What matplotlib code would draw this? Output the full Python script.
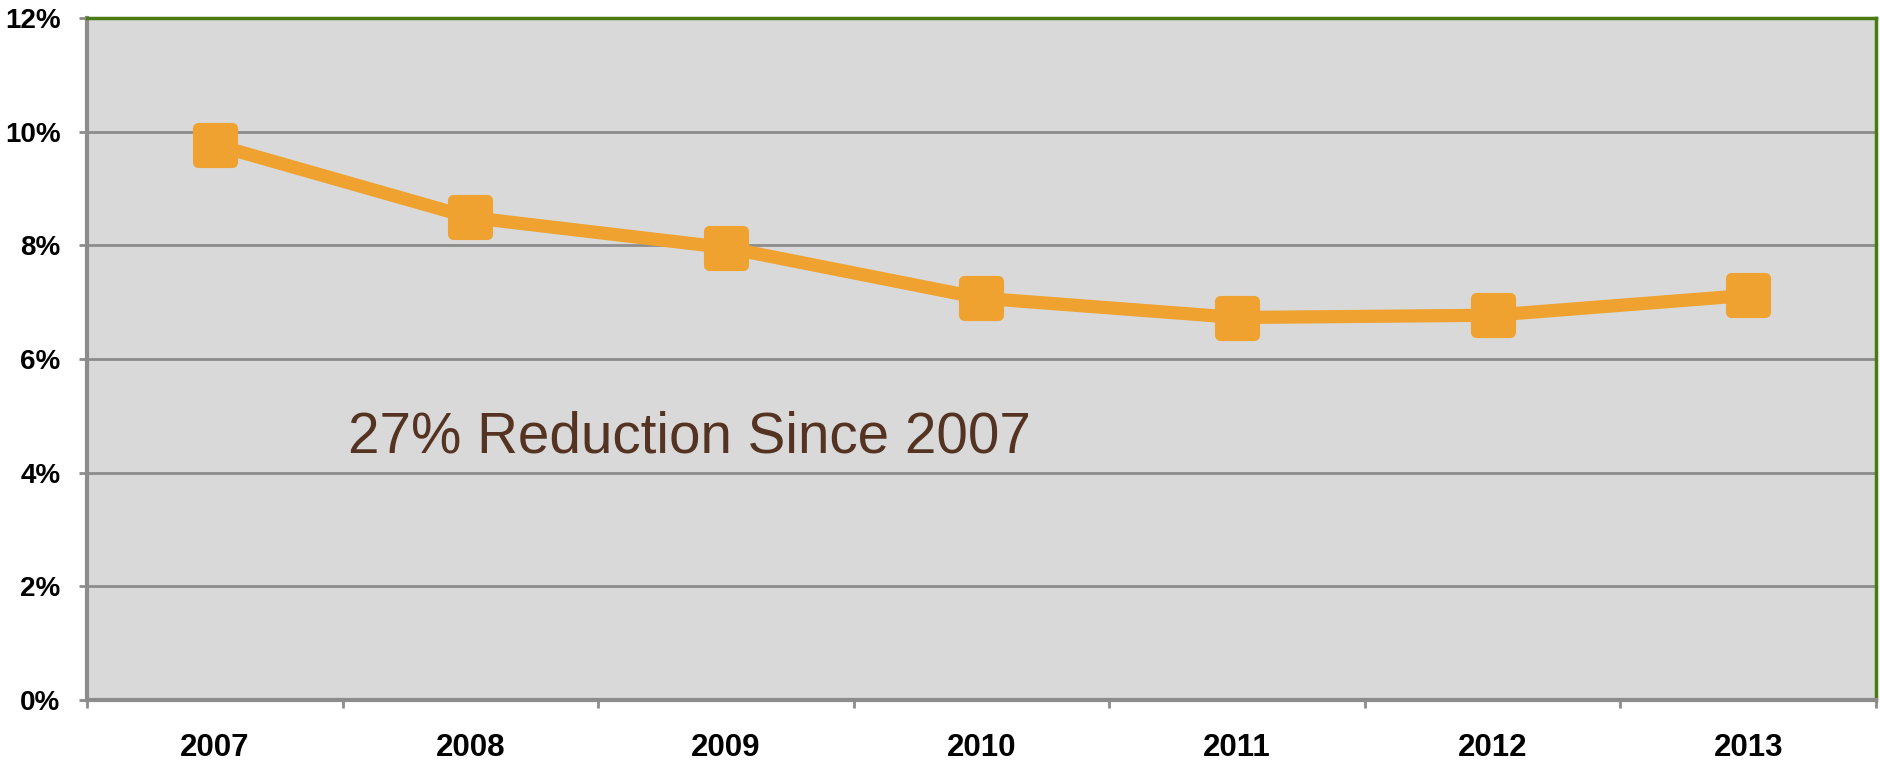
import matplotlib
matplotlib.use('Agg')
import matplotlib.pyplot as plt
from matplotlib.markers import MarkerStyle
from matplotlib.ticker import FixedLocator, FuncFormatter

years = ['2007', '2008', '2009', '2010', '2011', '2012', '2013']
rate = [9.77, 8.49, 7.96, 7.07, 6.73, 6.77, 7.12]
note = '27% Reduction Since 2007'

orange = '#efa22f'
grid_grey = '#8c8c8c'
frame_green = '#4a7a14'

fig = plt.figure(figsize=(18.81, 7.68), dpi=100)
ax = fig.add_axes([87 / 1881, 1 - 700 / 768, (1876 - 87) / 1881, (700 - 18) / 768])
ax.set_facecolor('#d9d9d9')

x = list(range(len(years)))
marker = MarkerStyle('s', joinstyle='round')
ax.plot(x, rate, color=orange, linewidth=9.5, marker=marker, markersize=24,
        markeredgewidth=8, markeredgecolor=orange, markerfacecolor=orange,
        solid_joinstyle='round', zorder=3)

ax.set_xlim(-0.5, len(years) - 0.5)
ax.set_ylim(0, 12)

ax.set_yticks(range(0, 13, 2))
ax.yaxis.set_major_formatter(FuncFormatter(lambda v, p: '%d%%' % v))
ax.grid(axis='y', color=grid_grey, linewidth=2, zorder=1)
ax.set_axisbelow(True)

ax.set_xticks(x)
ax.set_xticklabels(years)
ax.xaxis.set_minor_locator(FixedLocator([i - 0.5 for i in range(len(years) + 1)]))
ax.tick_params(axis='x', which='major', length=0, pad=24)
ax.tick_params(axis='x', which='minor', length=6, width=2, color=grid_grey)
ax.tick_params(axis='y', length=6, width=2, color=grid_grey, pad=13)

for lbl in ax.get_xticklabels():
    lbl.set_fontfamily(['Liberation Sans', 'DejaVu Sans'])
    lbl.set_fontweight('bold')
    lbl.set_fontsize(22.5)
for lbl in ax.get_yticklabels():
    lbl.set_fontfamily(['Liberation Sans', 'DejaVu Sans'])
    lbl.set_fontweight('bold')
    lbl.set_fontsize(20)

for side in ['left', 'bottom']:
    ax.spines[side].set_color(grid_grey)
    ax.spines[side].set_linewidth(3)
for side in ['top', 'right']:
    ax.spines[side].set_color(frame_green)
    ax.spines[side].set_linewidth(2.5)

ax.text(0.52, 4.36, note, fontsize=40.8, color='#553322', va='baseline', ha='left',
        family=['Liberation Sans', 'DejaVu Sans'])

fig.savefig('out.png', dpi=100, facecolor='white')
